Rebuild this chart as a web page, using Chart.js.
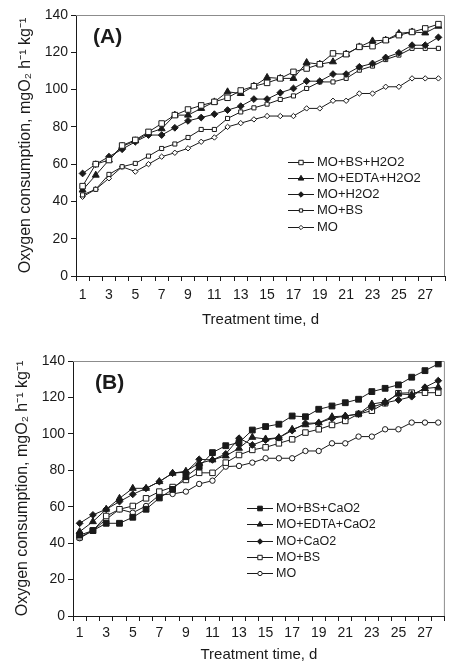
<!DOCTYPE html>
<html>
<head>
<meta charset="utf-8">
<script src="https://cdn.jsdelivr.net/npm/chart.js@4.4.1/dist/chart.umd.min.js"></script>
<style>
  html, body { margin: 0; padding: 0; background: #fff; overflow: hidden; }
  canvas { display: block; position: absolute; left: 0; }
  #chartA { top: 0; }
  #chartB { top: 330px; }
</style>
</head>
<body>
<canvas id="chartA" width="450" height="330"></canvas>
<canvas id="chartB" width="450" height="333"></canvas>
<script>
// treatment days
const days = ['1', '2', '3', '4', '5', '6', '7', '8', '9', '10', '11', '12', '13', '14',
  '15', '16', '17', '18', '19', '20', '21', '22', '23', '24', '25', '26', '27', '28'];

// panel A: oxygen consumption, mgO2 h-1 kg-1
const aBsH2O2 = [48.2, 60.0, 62.2, 70.0, 73.0, 77.3, 81.8, 86.3, 89.3, 91.5, 93.4, 95.6, 99.5, 101.8,
  103.6, 106.0, 109.5, 111.3, 113.6, 119.4, 119.0, 122.9, 123.3, 126.5, 129.2, 130.9, 132.8, 135.1];
const aEdtaH2O2 = [46.1, 54.1, 62.2, 69.5, 72.5, 76.6, 79.0, 86.3, 86.3, 89.9, 93.4, 98.8, 97.9, 101.8,
  106.5, 106.0, 106.0, 114.5, 113.6, 114.9, 119.0, 122.9, 126.1, 126.5, 130.1, 130.9, 130.4, 134.0];
const aH2O2 = [55.0, 60.0, 64.0, 68.0, 72.0, 75.6, 75.6, 79.5, 83.2, 85.0, 86.8, 89.0, 91.1, 94.9,
  94.9, 98.3, 100.6, 104.5, 104.5, 108.3, 108.3, 112.2, 114.0, 117.2, 119.7, 123.8, 123.8, 128.0];
const aBs = [43.5, 46.5, 54.5, 58.6, 60.4, 64.3, 68.4, 70.8, 74.3, 78.6, 78.6, 84.5, 88.0, 90.2,
  92.2, 94.7, 96.6, 100.6, 104.1, 104.1, 106.0, 110.4, 112.6, 116.1, 118.5, 122.1, 122.1, 122.1];
const aMo = [42.5, 46.5, 52.4, 58.6, 56.0, 60.0, 64.0, 66.1, 68.5, 72.0, 74.3, 80.0, 82.0, 84.0,
  85.8, 85.8, 85.8, 89.9, 89.9, 94.0, 94.0, 97.9, 97.9, 101.5, 101.5, 106.0, 106.0, 106.0];

// panel B
const bBsCaO2 = [44.4, 46.9, 50.9, 50.9, 54.2, 58.6, 64.8, 69.5, 76.5, 82.0, 89.7, 93.5, 95.2, 102.1,
  104.0, 105.3, 109.8, 109.4, 113.5, 115.3, 117.1, 119.0, 123.2, 125.0, 126.9, 131.1, 134.7, 138.4];
const bEdtaCaO2 = [46.3, 51.8, 58.6, 64.6, 70.1, 70.1, 73.8, 78.4, 79.5, 83.8, 85.7, 87.9, 92.1, 98.1,
  97.2, 97.9, 102.5, 105.0, 106.0, 109.4, 109.8, 110.9, 116.4, 117.5, 121.9, 121.5, 124.9, 125.6];
const bCaO2 = [50.9, 55.5, 58.6, 62.8, 66.8, 70.1, 73.8, 78.4, 79.0, 86.0, 85.7, 89.0, 97.6, 93.9,
  96.6, 97.9, 101.8, 105.8, 106.0, 108.5, 109.8, 110.9, 114.6, 117.0, 118.6, 120.4, 125.6, 129.2];
const bBs = [43.2, 46.9, 54.9, 58.6, 60.4, 64.6, 68.3, 70.8, 74.7, 78.6, 78.6, 84.2, 88.4, 91.2,
  92.6, 94.8, 97.0, 100.7, 102.5, 104.9, 107.1, 110.9, 112.7, 116.8, 122.3, 122.6, 122.6, 122.6];
const bMo = [42.7, 46.9, 53.1, 58.6, 56.7, 60.4, 66.4, 67.0, 68.3, 72.5, 74.3, 82.0, 82.4, 84.2,
  86.6, 86.6, 86.6, 90.6, 90.6, 94.8, 94.8, 98.5, 98.5, 102.5, 102.5, 106.2, 106.2, 106.2];

const yTicks = [0, 20, 40, 60, 80, 100, 120, 140];

const FONT = "'Liberation Sans', Arial, Helvetica, sans-serif";
const INK = '#1a1a1a';

function series(label, data, style, radius, filled) {
  return {
    label, data,
    borderColor: INK, borderWidth: 1, tension: 0, fill: false,
    pointStyle: style, pointRadius: radius, pointHoverRadius: radius,
    pointBackgroundColor: filled ? INK : '#fff',
    pointBorderColor: INK, pointBorderWidth: 1
  };
}

// gray frame on top/right, panel letter and the inset legend
const panelDecor = {
  id: 'panelDecor',
  beforeDatasetsDraw(chart) {
    const { ctx, chartArea: a } = chart;
    ctx.save();
    ctx.strokeStyle = '#8c8c8c';
    ctx.lineWidth = 1;
    ctx.beginPath();
    ctx.moveTo(a.left, a.top + 0.5);
    ctx.lineTo(a.right - 0.5, a.top + 0.5);
    ctx.lineTo(a.right - 0.5, a.bottom);
    ctx.stroke();
    ctx.restore();
  },
  afterDraw(chart, args, opts) {
    const ctx = chart.ctx;
    ctx.save();
    ctx.fillStyle = INK;
    ctx.textBaseline = 'middle';
    ctx.font = `bold 21px ${FONT}`;
    ctx.fillText(opts.letter, opts.letterX, opts.letterY);

    ctx.font = `${opts.legendSize}px ${FONT}`;
    chart.data.datasets.forEach((ds, i) => {
      const x = opts.legendX;
      const y = Math.round(opts.legendY + i * opts.legendStep) + 0.5;
      ctx.strokeStyle = INK;
      ctx.lineWidth = 1;
      ctx.beginPath();
      ctx.moveTo(x, y);
      ctx.lineTo(x + 26, y);
      ctx.stroke();
      ctx.fillStyle = ds.pointBackgroundColor;
      Chart.helpers.drawPoint(ctx, {
        pointStyle: ds.pointStyle, rotation: 0, borderWidth: 1, radius: ds.pointRadius * 0.8
      }, x + 13, y);
      ctx.fillStyle = INK;
      ctx.fillText(ds.label, x + 29, y);
    });
    ctx.restore();
  }
};

function makeChart(id, datasets, geo, decor) {
  return new Chart(document.getElementById(id), {
    type: 'line',
    data: { labels: days, datasets },
    options: {
      responsive: false,
      animation: false,
      devicePixelRatio: 1,
      layout: { padding: { top: geo.top, right: geo.right, left: 0, bottom: 0 } },
      plugins: { legend: { display: false }, tooltip: { enabled: false }, panelDecor: decor },
      scales: {
        x: {
          type: 'category',
          offset: true,
          grid: { display: true, drawOnChartArea: false, drawTicks: true, tickLength: 5, offset: true, color: INK },
          border: { color: INK, width: 1 },
          ticks: {
            autoSkip: false, maxRotation: 0, padding: geo.xTickPad, color: INK,
            font: { family: FONT, size: 14 },
            callback: (v, i) => (i % 2 === 0 ? days[i] : '')
          },
          title: {
            display: true, text: 'Treatment time, d', color: INK,
            font: { family: FONT, size: 15, lineHeight: geo.xTitleLH },
            padding: { top: 0, bottom: geo.xTitlePad }
          },
          afterFit: s => { s.height = geo.xHeight; }
        },
        y: {
          min: 0, max: 140,
          afterBuildTicks: s => { s.ticks = yTicks.map(v => ({ value: v })); },
          grid: { display: true, drawOnChartArea: false, drawTicks: true, tickLength: 5, color: INK },
          border: { color: INK, width: 1 },
          ticks: { padding: 3, color: INK, font: { family: FONT, size: 14 } },
          title: {
            display: true, text: 'Oxygen consumption, mgO\u2082 h\u207B\u00B9 kg\u207B\u00B9', color: INK,
            font: { family: FONT, size: 16 },
            padding: { top: geo.yTitlePad, bottom: 0 }
          },
          afterFit: s => { s.width = geo.yWidth; }
        }
      }
    },
    plugins: [panelDecor]
  });
}

makeChart('chartA', [
  series('MO+BS+H2O2', aBsH2O2, 'rect', 3.9, false),
  series('MO+EDTA+H2O2', aEdtaH2O2, 'triangle', 4, true),
  series('MO+H2O2', aH2O2, 'rectRot', 3.4, true),
  series('MO+BS', aBs, 'rect', 2.9, false),
  series('MO', aMo, 'rectRot', 2.7, false)
], { top: 15, right: 1, xHeight: 54, xTickPad: 6, xTitleLH: 1.2, xTitlePad: 1, yWidth: 76, yTitlePad: 16 },
{ letter: '(A)', letterX: 93, letterY: 37, legendX: 288, legendY: 161.5, legendStep: 16.3, legendSize: 13 });

makeChart('chartB', [
  series('MO+BS+CaO2', bBsCaO2, 'rect', 4.1, true),
  series('MO+EDTA+CaO2', bEdtaCaO2, 'triangle', 4, true),
  series('MO+CaO2', bCaO2, 'rectRot', 3.4, true),
  series('MO+BS', bBs, 'rect', 3.9, false),
  series('MO', bMo, 'circle', 2.7, false)
], { top: 31, right: 5, xHeight: 47, xTickPad: 4, xTitleLH: 1.05, xTitlePad: 0, yWidth: 73, yTitlePad: 13 },
{ letter: '(B)', letterX: 95, letterY: 53, legendX: 247, legendY: 178.3, legendStep: 16.1, legendSize: 12.5 });
</script>
</body>
</html>
